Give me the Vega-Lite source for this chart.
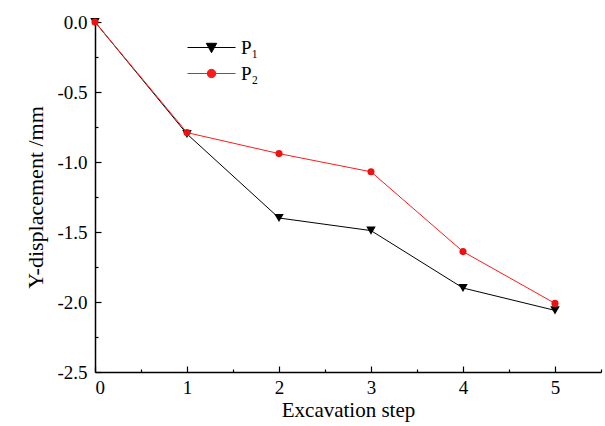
{
  "$schema": "https://vega.github.io/schema/vega-lite/v6.json",
  "width": 506,
  "height": 350,
  "autosize": "none",
  "padding": {"left": 95, "top": 22, "right": 4, "bottom": 54},
  "config": {
    "view": {"stroke": null},
    "font": "Liberation Serif",
    "axis": {"grid": false, "domainColor": "#000", "tickColor": "#000", "labelColor": "#000", "titleColor": "#000", "labelFont": "Liberation Serif", "titleFont": "Liberation Serif", "titleFontWeight": "normal", "domainWidth": 1.5, "tickWidth": 1.2}
  },
  "data": {"values": [
    {"step": 0, "y": 0, "s": "P1"},
    {"step": 1, "y": -0.80, "s": "P1"},
    {"step": 2, "y": -1.40, "s": "P1"},
    {"step": 3, "y": -1.49, "s": "P1"},
    {"step": 4, "y": -1.90, "s": "P1"},
    {"step": 5, "y": -2.06, "s": "P1"},
    {"step": 0, "y": 0, "s": "P2"},
    {"step": 1, "y": -0.79, "s": "P2"},
    {"step": 2, "y": -0.94, "s": "P2"},
    {"step": 3, "y": -1.07, "s": "P2"},
    {"step": 4, "y": -1.64, "s": "P2"},
    {"step": 5, "y": -2.01, "s": "P2"}
  ]},
  "resolve": {"axis": {"x": "independent", "y": "independent"}},
  "layer": [
    {
      "mark": {"type": "line", "strokeWidth": 1},
      "encoding": {
        "x": {"field": "step", "type": "quantitative", "scale": {"domain": [0, 5.5], "nice": false},
          "axis": {"orient": "bottom", "values": [0, 1, 2, 3, 4, 5], "format": "d", "tickSize": -6, "labelPadding": 12, "labelFontSize": 19, "title": "Excavation step", "titleFontSize": 21, "titlePadding": 2}},
        "y": {"field": "y", "type": "quantitative", "scale": {"domain": [-2.5, 0], "nice": false},
          "axis": {"orient": "left", "values": [-2.5, -2, -1.5, -1, -0.5, 0], "labelExpr": "replace(format(datum.value, '.1f'), '−', '-')", "tickSize": -6, "labelPadding": 14, "labelFontSize": 19, "title": "Y-displacement /mm", "titleFontSize": 22, "titlePadding": 9}},
        "color": {"field": "s", "type": "nominal", "scale": {"domain": ["P1", "P2"], "range": ["#000000", "#ff1a1a"]},
          "legend": {"orient": "none", "legendX": 106, "legendY": 15, "title": null, "labelFontSize": 19, "labelFont": "Liberation Serif", "symbolSize": 400, "rowPadding": 5, "labelOffset": 19,
            "labelExpr": "datum.value == 'P1' ? 'P₁' : 'P₂'",
            "encode": {"symbols": {"update": {
              "shape": {"signal": "datum.value == 'P1' ? 'M-2.4,0H2.4M-0.52,-0.42L0.52,-0.42L0,0.52Z' : 'M-2.4,0H2.4M-0.42,0A0.42,0.42,0,1,0,0.42,0A0.42,0.42,0,1,0,-0.42,0Z'"},
              "fill": {"signal": "datum.value == 'P1' ? '#000000' : '#ee1111'"},
              "stroke": {"signal": "datum.value == 'P1' ? '#000000' : '#ff1a1a'"},
              "fillOpacity": {"value": 1},
              "strokeWidth": {"value": 1}}}}}}
      }
    },
    {
      "transform": [{"filter": "datum.s == 'P1'"}],
      "mark": {"type": "point", "filled": true, "opacity": 1, "shape": "triangle-down", "size": 90},
      "encoding": {
        "x": {"field": "step", "type": "quantitative", "axis": {"orient": "bottom", "values": [0.5, 1.5, 2.5, 3.5, 4.5, 5.5], "labels": false, "tickSize": -3, "title": null, "domain": false}},
        "y": {"field": "y", "type": "quantitative", "axis": {"orient": "left", "values": [-2.25, -1.75, -1.25, -0.75, -0.25], "labels": false, "tickSize": -3, "title": null, "domain": false}},
        "color": {"field": "s", "type": "nominal"}
      }
    },
    {
      "transform": [{"filter": "datum.s == 'P2'"}],
      "mark": {"type": "point", "filled": true, "opacity": 1, "shape": "circle", "size": 50, "color": "#ee1111"},
      "encoding": {
        "x": {"field": "step", "type": "quantitative", "axis": null},
        "y": {"field": "y", "type": "quantitative", "axis": null}
      }
    }
  ]
}
